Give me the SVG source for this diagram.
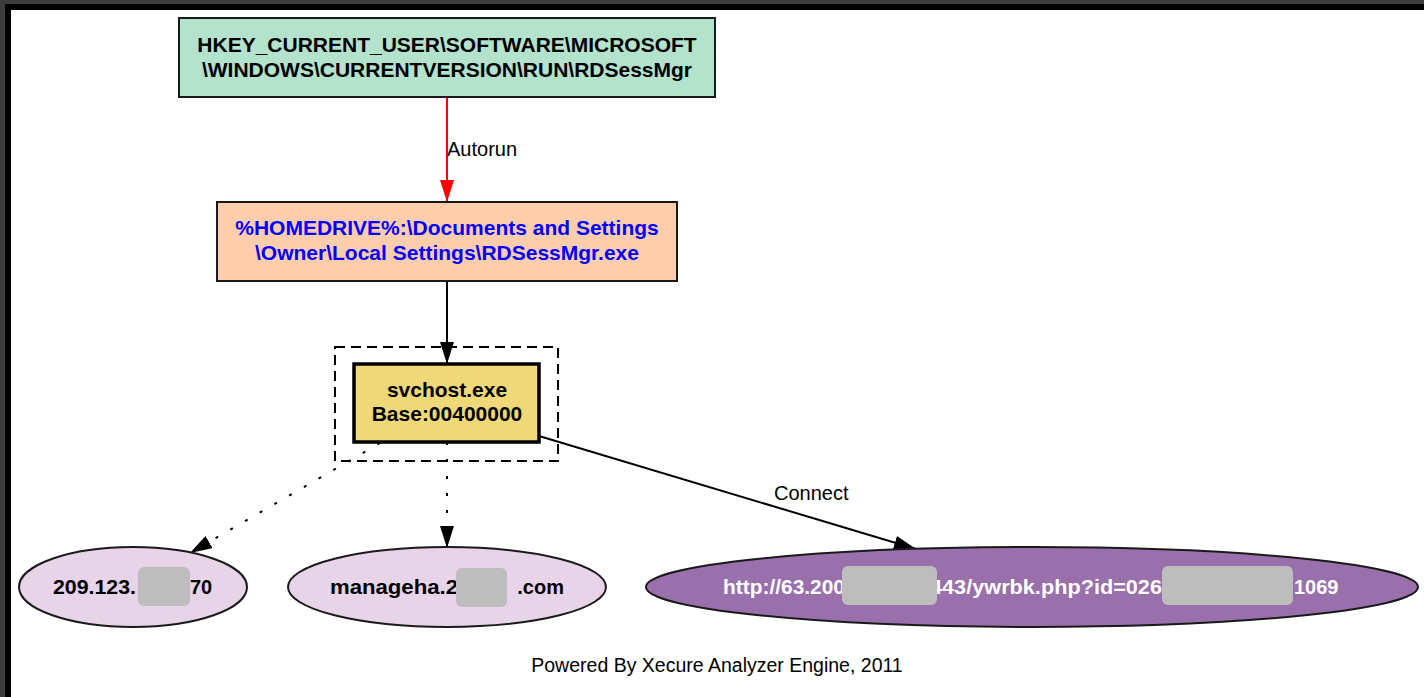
<svg xmlns="http://www.w3.org/2000/svg" width="1424" height="697" viewBox="0 0 1424 697">
  <style>
    .box { stroke: #1a1a1a; stroke-width: 2; }
    .lbl { font-family: "Liberation Sans", Arial, sans-serif; font-size: 21px; font-weight: bold; text-anchor: middle; }
    .elbl { font-family: "Liberation Sans", Arial, sans-serif; font-size: 20px; font-weight: bold; }
    .edge { fill: none; stroke: #000; stroke-width: 2; }
    .dot { stroke-dasharray: 3 14; }
    .etext { font-family: "Liberation Sans", Arial, sans-serif; font-size: 20px; fill: #000; }
    .redact { fill: #bdbdbd; }
  </style>
  <defs>
    <marker id="arrow" viewBox="0 0 22 14" refX="22" refY="7" markerWidth="22" markerHeight="14" markerUnits="userSpaceOnUse" orient="auto">
      <path d="M0,0 L22,7 L0,14 Z" fill="#000"/>
    </marker>
    <marker id="arrow-red" viewBox="0 0 22 14" refX="22" refY="7" markerWidth="22" markerHeight="14" markerUnits="userSpaceOnUse" orient="auto">
      <path d="M0,0 L22,7 L0,14 Z" fill="#ff0000"/>
    </marker>
  </defs>

  <!-- window frame -->
  <rect x="0" y="0" width="1424" height="697" fill="#3c3c3c"/>
  <rect x="5" y="4" width="1419" height="693" fill="#000"/>
  <rect x="11" y="10" width="1413" height="687" fill="#fff"/>

  <!-- connectors -->
  <g id="edges">
    <line class="edge" x1="447" y1="97" x2="447" y2="202" style="stroke:#ff0000" marker-end="url(#arrow-red)"/>
    <text class="etext" x="447" y="156">Autorun</text>
    <line class="edge" x1="447" y1="281" x2="447" y2="364" marker-end="url(#arrow)"/>
    <line class="edge dot" x1="380" y1="443" x2="190" y2="553" marker-end="url(#arrow)"/>
    <line class="edge dot" x1="447" y1="442" x2="447" y2="548" marker-end="url(#arrow)"/>
    <line class="edge" x1="539" y1="436" x2="916" y2="549" marker-end="url(#arrow)"/>
    <text class="etext" x="774" y="500">Connect</text>
  </g>

  <!-- registry autorun key -->
  <g id="node-regkey">
    <rect class="box" x="179" y="18" width="536" height="79" fill="#b3e2cd"/>
    <text class="lbl" x="447" y="52" fill="#000">HKEY_CURRENT_USER\SOFTWARE\MICROSOFT</text>
    <text class="lbl" x="447" y="77" fill="#000">\WINDOWS\CURRENTVERSION\RUN\RDSessMgr</text>
  </g>

  <!-- dropped executable -->
  <g id="node-exe">
    <rect class="box" x="217" y="202" width="460" height="79" fill="#fdcdac"/>
    <text class="lbl" x="447" y="235" fill="#0000ff">%HOMEDRIVE%:\Documents and Settings</text>
    <text class="lbl" x="447" y="260" fill="#0000ff">\Owner\Local Settings\RDSessMgr.exe</text>
  </g>

  <!-- injected process inside its cluster -->
  <g id="cluster-svchost">
    <rect x="335" y="347" width="223" height="114" fill="none" stroke="#000" stroke-width="2" stroke-dasharray="10 6"/>
  </g>
  <g id="node-svchost">
    <rect x="354" y="364" width="185" height="78" fill="#efd878" stroke="#000" stroke-width="3.5"/>
    <text class="lbl" x="447" y="397" fill="#000">svchost.exe</text>
    <text class="lbl" x="447" y="421" fill="#000">Base:00400000</text>
  </g>

  <!-- network destinations -->
  <g id="node-ip">
    <ellipse class="box" cx="133" cy="587" rx="114" ry="40" fill="#e7d4e8"/>
    <text class="elbl" x="53" y="594" textLength="83" lengthAdjust="spacingAndGlyphs" fill="#000">209.123.</text>
    <text class="elbl" x="190" y="594" fill="#000">70</text>
    <rect class="redact" x="138" y="567" width="52" height="39" rx="6"/>
  </g>

  <g id="node-domain">
    <ellipse class="box" cx="447" cy="587" rx="159" ry="40" fill="#e7d4e8"/>
    <text class="elbl" x="330" y="594" textLength="128" lengthAdjust="spacingAndGlyphs" fill="#000">manageha.2</text>
    <text class="elbl" x="564" y="594" text-anchor="end" fill="#000">.com</text>
    <rect class="redact" x="456" y="568" width="51" height="39" rx="6"/>
  </g>

  <g id="node-url">
    <ellipse class="box" cx="1032" cy="587" rx="386" ry="40" fill="#9970ab"/>
    <text class="elbl" x="723" y="594" textLength="122" lengthAdjust="spacingAndGlyphs" fill="#fff">http://63.200</text>
    <text class="elbl" x="930" y="594" textLength="232" lengthAdjust="spacingAndGlyphs" fill="#fff">443/ywrbk.php?id=026</text>
    <text class="elbl" x="1294" y="594" fill="#fff">1069</text>
    <rect class="redact" x="842" y="566" width="95" height="39" rx="6"/>
    <rect class="redact" x="1162" y="566" width="131" height="39" rx="6"/>
  </g>

  <text x="717" y="672" text-anchor="middle" font-family="'Liberation Sans', Arial, sans-serif" font-size="19.5px" fill="#000">Powered By Xecure Analyzer Engine, 2011</text>
</svg>
